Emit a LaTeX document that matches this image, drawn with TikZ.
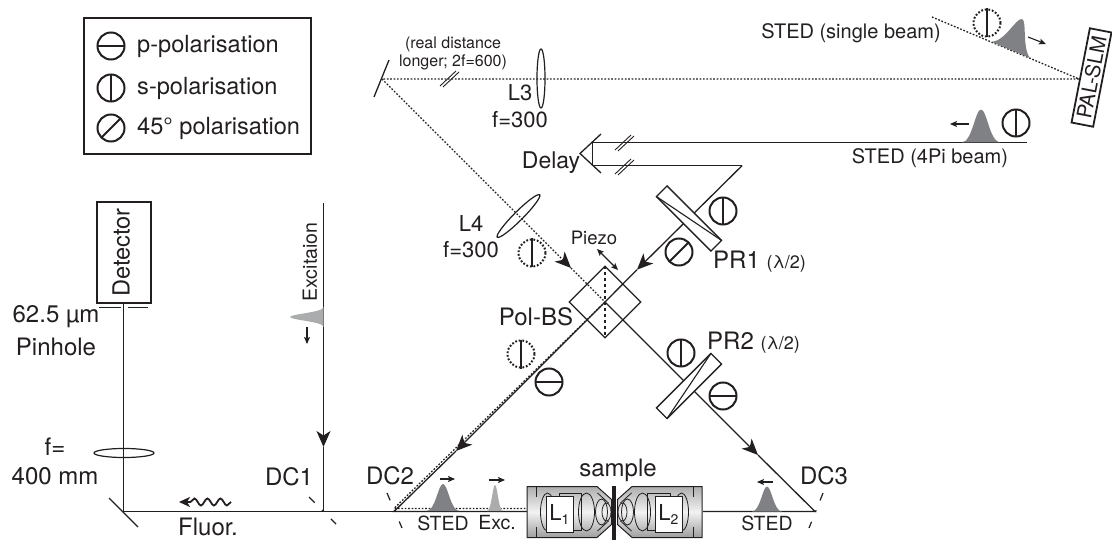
\documentclass[tikz,border=0pt]{standalone}
\usepackage{fontspec}
\setmainfont{TeX Gyre Heros}
\usepackage{xcolor}
\usetikzlibrary{arrows.meta, shapes.geometric, decorations.pathmorphing}
\definecolor{inkDark}{RGB}{35,31,32}
\definecolor{pulseDark}{RGB}{128,129,132}
\definecolor{pulseLight}{RGB}{170,172,174}
\tikzset{
lbl/.style={font=\fontsize{24}{26}\selectfont, inner sep=0pt},
lblopt/.style={font=\fontsize{22}{24}\selectfont, inner sep=0pt},
lblleg/.style={font=\fontsize{23.6}{26}\selectfont, inner sep=0pt},
lblmid/.style={font=\fontsize{19.5}{22}\selectfont, inner sep=0pt},
lblsmall/.style={font=\fontsize{16}{18}\selectfont, inner sep=0pt, align=center},
beam/.style={line width=1.3pt},
dotbeam/.style={line width=1.3pt, dash pattern=on 1.7pt off 1.7pt},
mirror/.style={line width=1.3pt},
dichroic/.style={line width=1.2pt, dash pattern=on 8pt off 10.5pt on 2pt off 10.5pt on 8pt},
bighead/.style={-{Stealth[length=16pt, width=14pt, inset=4.5pt]}},
smallhead/.style={line width=1.1pt, -{Stealth[length=7pt, width=6pt, inset=1.5pt]}},
lens/.style={ellipse, draw, line width=1.2pt, inner sep=0pt},
plate/.style={rectangle, draw, fill=white, line width=1.3pt, inner sep=0pt, outer sep=0pt, minimum width=77pt, minimum height=15pt},
polsym/.style={circle, draw, line width=2pt, minimum size=27pt, inner sep=0pt},
ppol/.style={polsym, path picture={\draw[line width=2pt] (path picture bounding box.west) -- (path picture bounding box.east);}},
spol/.style={polsym, path picture={\draw[line width=2pt] (path picture bounding box.north) -- (path picture bounding box.south);}},
dpol/.style={polsym, path picture={\draw[line width=2pt] (path picture bounding box.south west) -- (path picture bounding box.north east);}},
sdot/.style={circle, draw, line width=2pt, dash pattern=on 1.8pt off 1.8pt, minimum size=27pt, inner sep=0pt},
objective/.pic={
\draw[line width=1pt, top color=black!32, bottom color=black!38, middle color=black!5] (-87.5,-25.5) -- (-17.5,-25.5) -- (-3,-12.5) -- (-3,12.5) -- (-17.5,25.5) -- (-87.5,25.5) -- cycle;
\draw[line width=.9pt] (-78.5,-25.5) -- (-78.5,-15) (-78.5,15) -- (-78.5,25.5);
\draw[line width=.8pt] (-67,0) ellipse (7 and 19);
\draw[line width=.8pt] (-55.5,-18.5) rectangle (-33,18.5);
\draw[line width=.8pt] (-28,0) ellipse (8 and 19);
\draw[line width=.8pt] (-13,0) ellipse (6 and 13);
\draw[line width=.8pt] (-8,0) ellipse (4.5 and 9);
\draw[line width=.8pt] (-17,-19) -- (-6,-9) (-17,19) -- (-6,9);
},
pulse/.pic={
\fill (-1,0) .. controls (-.45,0) and (-.3,-1) .. (0,-1) .. controls (.3,-1) and (.45,0) .. (1,0) -- cycle;
}
}
\begin{document}
\begin{tikzpicture}[x=1pt, y=-1pt, color=inkDark]
\useasboundingbox (0,0) rectangle (1112,540);
\coordinate (bsc) at (605,302);
\coordinate (topmirror) at (382,79);
\coordinate (slm) at (1079,79);
\coordinate (singleend) at (932,17);
\coordinate (l4tip) at (571,268);
\coordinate (sted4pi) at (1027,142.5);
\coordinate (retro1) at (592.5,142.5);
\coordinate (retro2) at (592.5,165.5);
\coordinate (turn) at (742.2,165.5);
\coordinate (pr1tip) at (637,269.7);
\coordinate (dc1) at (323.5,511.5);
\coordinate (dc2) at (394,511.5);
\coordinate (dc3) at (815,511.5);
\coordinate (lowtip) at (456,451);
\coordinate (righttip) at (758,455);
\coordinate (foldmirror) at (123.5,511.5);
\coordinate (objleft) at (527,511.5);
\coordinate (objright) at (703,511.5);
\coordinate (pinhole) at (123.5,303);
\coordinate (extop) at (323.5,203);
\coordinate (extip) at (323.5,447);
\coordinate (fluorstart) at (231,502);
\coordinate (fluorend) at (179,502);

\draw[dotbeam] (singleend) -- (slm) -- (topmirror);
\draw[dotbeam, bighead] (topmirror) -- (l4tip);
\draw[dotbeam] (l4tip) -- (bsc);
\draw[beam] (sted4pi) -- (retro1) -- (retro2) -- (turn);
\draw[beam, bighead] (turn) -- (pr1tip);
\draw[beam] (pr1tip) -- (bsc);
\draw[beam, bighead] (bsc) -- (lowtip);
\draw[beam] (lowtip) -- (dc2) -- (objleft);
\draw[dotbeam] (bsc) -- ([yshift=3pt]dc2) -- ([yshift=3pt]objleft);
\draw[beam, bighead] (bsc) -- (righttip);
\draw[beam] (righttip) -- (dc3) -- (objright);
\draw[beam] (foldmirror) -- (dc2);
\draw[beam] (foldmirror) -- (pinhole);
\draw[beam, bighead] (extop) -- (extip);
\draw[beam] (extip) -- (dc1);

\node[draw, line width=1.2pt, minimum width=227pt, minimum height=136pt, inner sep=0pt] (legend) at (197.5,86) {};
\node[ppol] (legp) at (111,46) {};
\node[spol] (legs) at (111,88) {};
\node[dpol] (legd) at (111,128) {};
\node[lblleg, right] (legptxt) at (137,46) {p-polarisation};
\node[lblleg, right] (legstxt) at (137,88) {s-polarisation};
\node[lblleg, right] (legdtxt) at (137,128) {45° polarisation};

\draw[mirror] (389,60) -- (374,97);
\draw[mirror] (109,498) -- (138,527);
\foreach \xa/\ya/\xb/\yb in {440/86/456/71, 443/87/459/72, 615/150/631/135, 618/151/634/136, 615/174/631/159, 618/175/634/160}{
\draw[line width=.9pt] (\xa,\ya) -- (\xb,\yb);
}
\draw[mirror] (601,134) -- (580,153.5) -- (601,173);

\node[lens, minimum width=8pt, minimum height=59pt] (lthree) at (541,78.5) {};
\node[lens, rotate=-45, minimum width=9pt, minimum height=60pt] (lfour) at (518.5,216) {};
\node[lens, minimum width=60pt, minimum height=9pt] (lfold) at (124,453) {};

\node[plate, rotate=-45] (pr1) at (689,218.5) {};
\draw[line width=1.1pt] (pr1.south west) -- (pr1.north east);
\node[plate, rotate=45] (pr2) at (689,386) {};
\draw[line width=1.1pt] (pr2.south west) -- (pr2.north east);
\node[draw, line width=1.2pt, rotate=45, minimum size=50.5pt, inner sep=0pt, outer sep=0pt] (bs) at (605,302) {};
\draw[line width=1.2pt, dashed] (bs.north east) -- (bs.south west);
\draw[line width=1.1pt, {Stealth[length=7pt, width=6pt, inset=1.5pt]}-{Stealth[length=7pt, width=6pt, inset=1.5pt]}] (597,249) -- (618,270);

\node[draw, line width=1.2pt, rotate=90, minimum width=101pt, minimum height=54pt, inner sep=0pt, font=\fontsize{23.6}{26}\selectfont] (detector) at (124,252.5) {\raisebox{-5.5pt}[0pt][0pt]{Detector}};
\draw[line width=1pt] (99,308) -- (121,308) (128,308) -- (148,308);

\node[draw, line width=1.8pt, rotate=79, minimum width=96pt, minimum height=22pt, inner sep=0pt, font=\fontsize{20.5}{22}\selectfont] (palslm) at (1091.5,77.5) {PAL-SLM};

\draw[dichroic] (309,497) -- (336,524);
\draw[dichroic] (387,493) -- (402,528);
\draw[dichroic] (823,493) -- (809,528);

\pic at (614.5,512) {objective};
\pic[xscale=-1] at (614.5,512) {objective};
\draw[line width=3.5pt] (614,486) -- (614,540);
\node[draw, line width=.9pt, fill=white, minimum width=27pt, minimum height=36pt, inner sep=0pt, font=\fontsize{22}{24}\selectfont] (lone) at (559.5,514) {L\raisebox{-4pt}{\fontsize{14}{14}\selectfont 1}};
\node[draw, line width=.9pt, fill=white, minimum width=27pt, minimum height=36pt, inner sep=0pt, font=\fontsize{22}{24}\selectfont] (ltwo) at (668.5,514) {L\raisebox{-4pt}{\fontsize{14}{14}\selectfont 2}};

\pic[pulseDark, xscale=16.5, yscale=27] at (443,511) {pulse};
\pic[pulseLight, xscale=8, yscale=26] at (495,511) {pulse};
\pic[pulseDark, xscale=15, yscale=25] at (767,511.5) {pulse};
\pic[pulseDark, xscale=19.5, yscale=33] at (981,142.5) {pulse};
\pic[pulseLight, rotate=90, xscale=10, yscale=33.5] at (323.5,317) {pulse};
\fill[pulseDark] (992,42) .. controls (1006,40) and (1016,18) .. (1022,19) .. controls (1027,20) and (1022,48) .. (1030,58) -- cycle;

\draw[smallhead] (440,479) -- (455,479);
\draw[smallhead] (489,480) -- (505,480);
\draw[smallhead] (773,482) -- (757,482);
\draw[smallhead] (969,124) -- (950,124);
\draw[smallhead] (1028,37) -- (1046,44);
\draw[smallhead] (307,327) -- (307,344);
\draw[line width=1.8pt, decorate, decoration={snake, segment length=13pt, amplitude=3.5pt, pre length=0pt, post length=0pt}] (fluorstart) -- ([xshift=9pt]fluorend);
\draw[line width=1.8pt, -{Stealth[length=11pt, width=10pt, inset=3pt]}] ([xshift=10pt]fluorend) -- (fluorend);

\node[spol] (ps1) at (723,211) {};
\node[dpol] (pd1) at (679,252) {};
\node[spol] (ps2) at (681,353) {};
\node[ppol] (pp2) at (723,396) {};
\node[ppol] (pp3) at (549,382) {};
\node[spol] (ps3) at (1016,123) {};
\foreach \cx/\cy/\name in {532/253/dl4, 521/354/dbs, 987/23/dslm}{
\node[sdot] (\name) at (\cx,\cy) {};
\draw[line width=2pt] (\name.north) -- (\name.south);
}

\node[lblsmall] (realdist) at (453,53) {(real distance\\longer; 2f=600)};
\node[lblopt] (l3txt) at (520,93) {L3};
\node[lblopt] (f3txt) at (520,120) {f=300};
\node[lblopt, font=\fontsize{23}{25}\selectfont] (delaytxt) at (551,163) {Delay};
\node[lblopt] (l4txt) at (471,223) {L4};
\node[lblopt] (f4txt) at (471,250) {f=300};
\node[lblmid, font=\fontsize{18.5}{20}\selectfont] (piezotxt) at (594,238) {Piezo};
\node[lbl] (polbstxt) at (536,317) {Pol-BS};
\node[lbl, right] (pr1txt) at (713,262) {PR1 {\fontsize{18}{18}\selectfont(λ/2)}};
\node[lbl, right] (pr2txt) at (707,343) {PR2 {\fontsize{18}{18}\selectfont(λ/2)}};
\node[lblmid, font=\fontsize{20}{22}\selectfont] (singletxt) at (851,33) {STED (single beam)};
\node[lblmid, font=\fontsize{20}{22}\selectfont] (fourpitxt) at (930,158) {STED (4Pi beam)};
\node[lblmid, rotate=90] (extxt) at (310,262) {Excitaion};
\node[lbl] (pintxta) at (56,317) {62.5 µm};
\node[lbl] (pintxtb) at (56,347) {Pinhole};
\node[lbl] (ftxta) at (55,447) {f=};
\node[lbl] (ftxtb) at (55,476) {400 mm};
\node[lbl] (dc1txt) at (289,477) {DC1};
\node[lbl] (dc2txt) at (390,476) {DC2};
\node[lbl] (dc3txt) at (824,476) {DC3};
\node[lbl] (fluortxt) at (208,527) {Fluor.};
\node[lbl] (sampletxt) at (618,470) {sample};
\node[lblmid] (stedl) at (443,523) {STED};
\node[lblmid] (exctxt) at (497,523) {Exc.};
\node[lblmid] (stedr) at (767,523) {STED};
\end{tikzpicture}
\end{document}
